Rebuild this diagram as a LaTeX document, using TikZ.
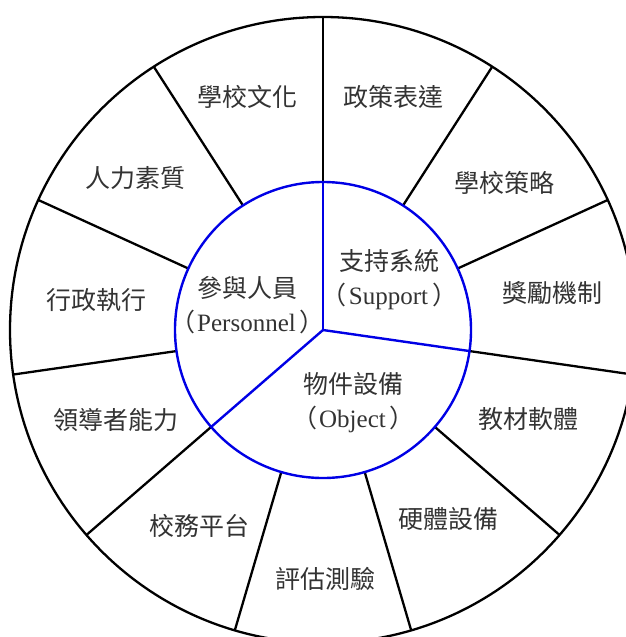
\documentclass[tikz,border=0pt]{standalone}
\usepackage{fontspec}
\setmainfont{Liberation Serif}
\newfontfamily\cjk{Noto Sans CJK TC}
\newcommand{\lp}{{\cjk （}\kern2pt}
\newcommand{\rp}{\kern4pt{\cjk ）}}
\begin{document}
\begin{tikzpicture}[x=1pt,y=1pt,
  spoke/.style={draw=black,line width=2.3pt},
  ring/.style={draw=blue!90!black,line width=2.4pt},
  lbl/.style={inner sep=0pt,font=\fontsize{25}{34}\selectfont\cjk,text=black!80},
  inlbl/.style={inner sep=0pt,align=center,font=\fontsize{25}{34}\selectfont,text=black!80}]
\useasboundingbox (0,0) rectangle (625,-637);
\coordinate (c) at (323,-330);
\begin{scope}[shift={(c)}]
  \draw[spoke] (0,0) circle[radius=313];
  \foreach \k in {0,...,10}
    \draw[spoke] ({90-\k*360/11}:148) -- ({90-\k*360/11}:313);
  \draw[ring] (0,0) circle[radius=148];
  \draw[ring] (0,0) -- (90:148);
  \draw[ring] (0,0) -- ({90-3*360/11}:148);
  \draw[ring] (0,0) -- ({90-7*360/11}:148);
\end{scope}
\node[lbl] (wh) at (247,-97) {學校文化};
\node[lbl] (zc) at (393,-97) {政策表達};
\node[lbl] (cl) at (504,-183) {學校策略};
\node[lbl] (jl) at (552,-293) {獎勵機制};
\node[lbl] (jc) at (528,-419) {教材軟體};
\node[lbl] (yt) at (448,-519) {硬體設備};
\node[lbl] (pg) at (325,-579) {評估測驗};
\node[lbl] (xw) at (199,-526) {校務平台};
\node[lbl] (ld) at (116,-420) {領導者能力};
\node[lbl] (xz) at (96,-300) {行政執行};
\node[lbl] (rl) at (135,-178) {人力素質};
\node[inlbl] (sup) at (389.5,-280) {{\cjk 支持系統}\\\lp Support\rp};
\node[inlbl] (per) at (247.5,-305.5) {{\cjk 參與人員}\\\lp Personnel\rp};
\node[inlbl] (obj) at (353.5,-402.5) {{\cjk 物件設備}\\\lp Object\rp};
\end{tikzpicture}
\end{document}
